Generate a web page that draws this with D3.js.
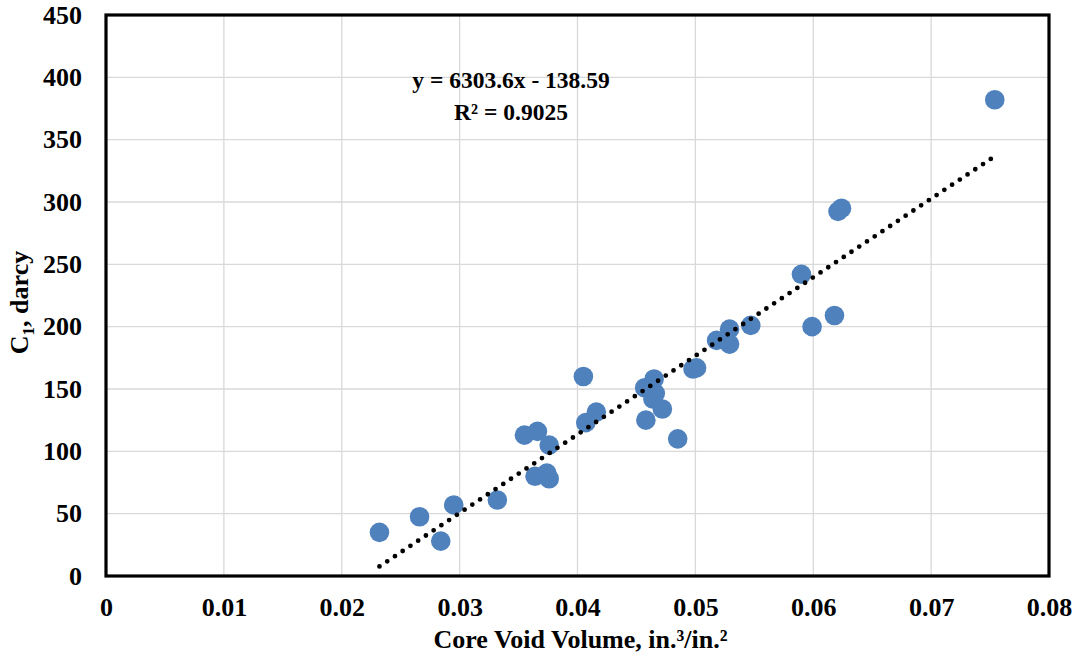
<!DOCTYPE html>
<html>
<head>
<meta charset="utf-8">
<script src="https://cdn.jsdelivr.net/npm/d3@7"></script>
<style>
  html, body { margin: 0; padding: 0; background: #fff; }
  svg { display: block; }
  text { font-family: "Liberation Serif", "Times New Roman", serif; font-weight: bold; fill: #000; }
</style>
</head>
<body>
<svg id="chart" width="1077" height="655"></svg>
<script>
// Core void volume (in.^3/in.^2) and C1 permeability coefficient (darcy)
const voidVolume = [
  0.0232, 0.0266, 0.0284, 0.0295, 0.0332,
  0.0355, 0.0366, 0.0364, 0.0374, 0.0376, 0.0376,
  0.0405, 0.0407, 0.0416,
  0.0457, 0.0465, 0.0466, 0.0464, 0.0472, 0.0458, 0.0485,
  0.0498, 0.0501,
  0.0518, 0.0529, 0.0529, 0.0547,
  0.0590, 0.0599, 0.0618, 0.0621, 0.0624,
  0.0754
];
const c1Darcy = [
  35, 47.5, 28, 57, 61,
  113, 116, 80, 82.5, 78, 105,
  160, 123, 131.5,
  151, 158, 146.5, 142, 134, 125, 110,
  166, 167,
  189, 198, 186, 201,
  242, 200, 209, 292.5, 295,
  382
];

// Least-squares fit shown on the chart
const fitSlope = 6303.6;
const fitIntercept = -138.59;
const fitLabel = ["y = 6303.6x - 138.59", "R\u00b2 = 0.9025"];

const xTicks = [0, 0.01, 0.02, 0.03, 0.04, 0.05, 0.06, 0.07, 0.08];
const yTicks = [0, 50, 100, 150, 200, 250, 300, 350, 400, 450];

const svg = d3.select("#chart");
const margin = { left: 106, top: 15, right: 1077 - 1049, bottom: 655 - 576 };
const W = 1077 - margin.left - margin.right;
const H = 655 - margin.top - margin.bottom;

const x = d3.scaleLinear().domain([0, 0.08]).range([0, W]);
const y = d3.scaleLinear().domain([0, 450]).range([H, 0]);

const g = svg.append("g").attr("transform", `translate(${margin.left},${margin.top})`);

// gridlines
g.append("g").selectAll("line").data(xTicks.slice(1, -1)).join("line")
  .attr("x1", d => x(d)).attr("x2", d => x(d)).attr("y1", 0).attr("y2", H)
  .attr("stroke", "#d9d9d9").attr("stroke-width", 1.3);
g.append("g").selectAll("line").data(yTicks.slice(1, -1)).join("line")
  .attr("y1", d => y(d)).attr("y2", d => y(d)).attr("x1", 0).attr("x2", W)
  .attr("stroke", "#d9d9d9").attr("stroke-width", 1.3);

// axes (labels only; the frame is drawn separately)
const xAxis = g.append("g").attr("transform", `translate(0,${H})`)
  .call(d3.axisBottom(x).tickValues(xTicks).tickFormat(d => d === 0 ? "0" : d3.format(".2f")(d)).tickSize(0).tickPadding(21.5));
xAxis.select(".domain").remove();
xAxis.selectAll("text").attr("font-size", 26).attr("font-family", "Liberation Serif").attr("font-weight", "bold");

const yAxis = g.append("g")
  .call(d3.axisLeft(y).tickValues(yTicks).tickFormat(d3.format("d")).tickSize(0).tickPadding(24));
yAxis.select(".domain").remove();
yAxis.selectAll("text").attr("font-size", 26).attr("font-family", "Liberation Serif").attr("font-weight", "bold");

// data points
g.append("g").selectAll("circle").data(voidVolume.map((v, i) => [v, c1Darcy[i]])).join("circle")
  .attr("cx", d => x(d[0])).attr("cy", d => y(d[1])).attr("r", 9.8)
  .attr("fill", "#4f81bd");

// dotted linear trendline across the observed range, on top of the points
const xr = d3.extent(voidVolume);
g.append("line")
  .attr("x1", x(xr[0])).attr("y1", y(fitSlope * xr[0] + fitIntercept))
  .attr("x2", x(xr[1])).attr("y2", y(fitSlope * xr[1] + fitIntercept))
  .attr("stroke", "#000").attr("stroke-width", 4.8)
  .attr("stroke-linecap", "round").attr("stroke-dasharray", "0 9.3");

// frame
g.append("rect").attr("x", 0).attr("y", 0).attr("width", W).attr("height", H)
  .attr("fill", "none").attr("stroke", "#000").attr("stroke-width", 3.2);

// fit equation
const eq = g.append("text").attr("text-anchor", "middle").attr("font-size", 23.5);
eq.append("tspan").attr("x", 511 - margin.left).attr("y", 88 - margin.top).text(fitLabel[0]);
eq.append("tspan").attr("x", 511 - margin.left).attr("y", 120 - margin.top).text(fitLabel[1]);

// axis titles
svg.append("text").attr("x", margin.left + W / 2 + 3).attr("y", 648)
  .attr("text-anchor", "middle").attr("font-size", 26)
  .text("Core Void Volume, in.\u00b3/in.\u00b2");

const yt = svg.append("text").attr("transform", `translate(28,${margin.top + H / 2 + 7}) rotate(-90)`)
  .attr("text-anchor", "middle").attr("font-size", 26);
yt.append("tspan").text("C");
yt.append("tspan").attr("font-size", 17).attr("dy", 6).text("1");
yt.append("tspan").attr("dy", -6).text(", darcy");
</script>
</body>
</html>
